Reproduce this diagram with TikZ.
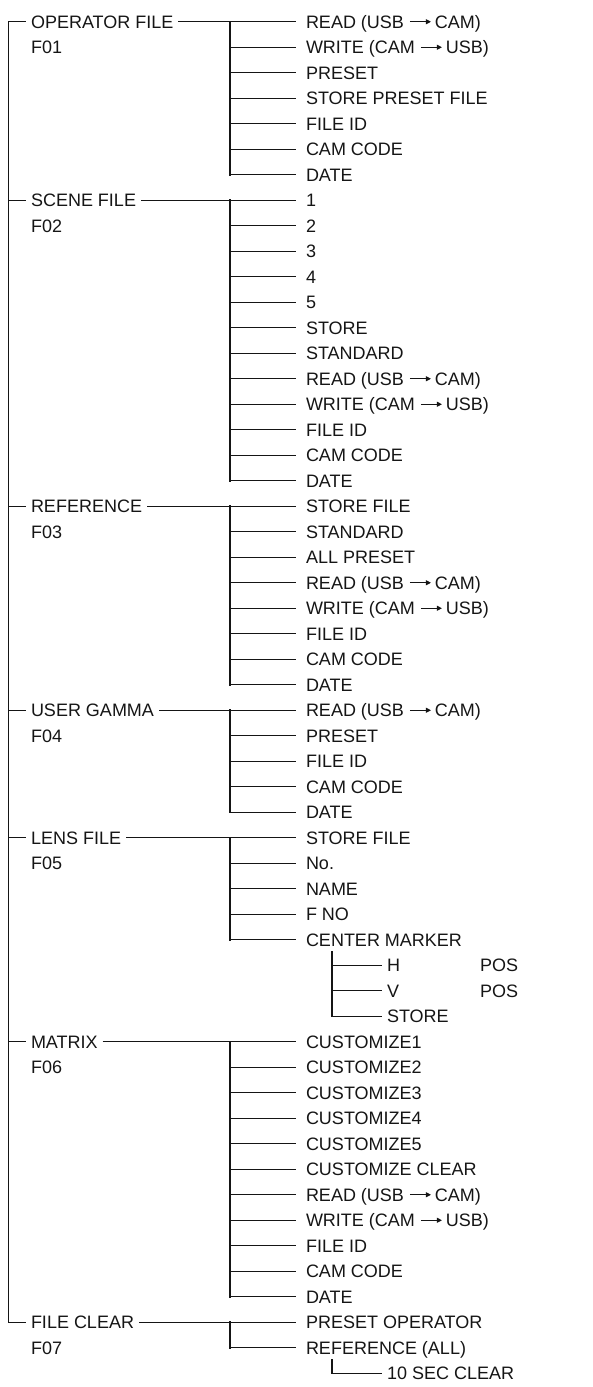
\documentclass[tikz,border=0pt]{standalone}
\usepackage{fontspec}
\setmainfont{Liberation Sans}
\usetikzlibrary{arrows.meta}
\definecolor{ink}{HTML}{151515}
\newcommand\arr{\hspace{5.5pt}\tikz[x=1pt,y=1pt,baseline=0pt]\draw[ink, line width=0.9pt, -{Triangle[length=5pt,width=5pt]}] (0,6.4) -- (21,6.4);\hspace{3.5pt}}
\tikzset{
  lbl/.style={font=\fontsize{18}{20}\selectfont, inner sep=0pt, text height=12.9pt, text depth=0pt, anchor=west, text=ink},
  kid/.style={lbl, outer xsep=10pt},
  head/.style={lbl, outer xsep=5pt},
  subkid/.style={lbl, outer xsep=5pt},
  bus/.style={draw=ink, line width=1.7pt, line cap=rect},
  stub/.style={draw=ink, line width=0.9pt},
}
\newcommand\menugroup[6]{%
  \coordinate (#1bus) at (230,{21.7+25.5*#2});
  \node[head] (#1) at (26,{21.7+25.5*#2}) {#3};
  \node[lbl] (#1code) at (31,{21.7+25.5*(#2+1)}) {#4};
  \foreach \t [count=\i from 0] in {#6} {
    \node[kid] (#1-\i) at (296,{21.7+25.5*(#2+\i)}) {\t};
    \draw[stub] (#1bus |- #1-\i.west) -- (#1-\i.west);
  }
  \draw[stub] (#1.east) -- (#1-0.west);
  \draw[stub] (trunk |- #1.west) -- (#1.west);
  \draw[bus] (#1bus) -- (#1bus |- #1-#5.west);
}
\begin{document}
\begin{tikzpicture}[x=1pt,y=-1pt]
\useasboundingbox (0,0) rectangle (593,1387);
\coordinate (trunk) at (8.5,21.7);

\menugroup{op}{0}{OPERATOR FILE}{F01}{6}{{READ (USB\arr CAM)},{WRITE (CAM\arr USB)},PRESET,STORE PRESET FILE,FILE ID,CAM CODE,DATE}
\menugroup{sc}{7}{SCENE FILE}{F02}{11}{1,2,3,4,5,STORE,STANDARD,{READ (USB\arr CAM)},{WRITE (CAM\arr USB)},FILE ID,CAM CODE,DATE}
\menugroup{rf}{19}{REFERENCE}{F03}{7}{STORE FILE,STANDARD,ALL PRESET,{READ (USB\arr CAM)},{WRITE (CAM\arr USB)},FILE ID,CAM CODE,DATE}
\menugroup{ug}{27}{USER GAMMA}{F04}{4}{{READ (USB\arr CAM)},PRESET,FILE ID,CAM CODE,DATE}
\menugroup{ln}{32}{LENS FILE}{F05}{4}{STORE FILE,No.,NAME,F NO,CENTER MARKER}
\menugroup{mx}{40}{MATRIX}{F06}{10}{CUSTOMIZE1,CUSTOMIZE2,CUSTOMIZE3,CUSTOMIZE4,CUSTOMIZE5,CUSTOMIZE CLEAR,{READ (USB\arr CAM)},{WRITE (CAM\arr USB)},FILE ID,CAM CODE,DATE}
\menugroup{fc}{51}{FILE CLEAR}{F07}{1}{PRESET OPERATOR,REFERENCE (ALL)}

% main trunk
\draw[bus] (trunk |- op.west) -- (trunk |- fc.west);

% center marker sub-items
\coordinate (lsub) at (332,{21.7+25.5*36+12});
\node[subkid] (lh) at (382,{21.7+25.5*37}) {H};
\node[subkid] (lv) at (382,{21.7+25.5*38}) {V};
\node[subkid] (ls) at (382,{21.7+25.5*39}) {STORE};
\node[lbl] (lhp) at (480,{21.7+25.5*37}) {POS};
\node[lbl] (lvp) at (480,{21.7+25.5*38}) {POS};
\draw[stub] (lsub |- lh.west) -- (lh.west);
\draw[stub] (lsub |- lv.west) -- (lv.west);
\draw[stub] (lsub |- ls.west) -- (ls.west);
\draw[bus] (lsub) -- (lsub |- ls.west);

% 10 sec clear
\coordinate (csub) at (332,{21.7+25.5*52+12});
\node[subkid] (c10) at (382,{21.7+25.5*53}) {10 SEC CLEAR};
\draw[stub] (csub |- c10.west) -- (c10.west);
\draw[bus] (csub) -- (csub |- c10.west);
\end{tikzpicture}
\end{document}
